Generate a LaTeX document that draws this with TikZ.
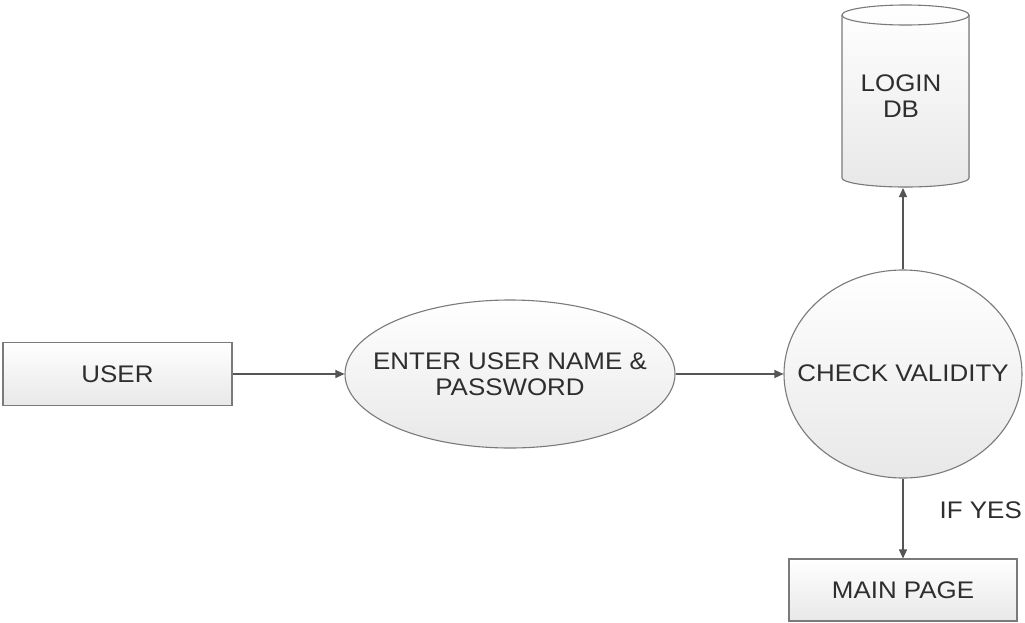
\documentclass[tikz,border=0pt]{standalone}
\usepackage{fontspec}
\setmainfont[FakeStretch=1.08]{Liberation Sans}
\usetikzlibrary{shapes.geometric,arrows.meta}
\definecolor{edgegray}{HTML}{7A7A7A}
\definecolor{txtgray}{HTML}{2E2E2E}
\definecolor{arrgray}{HTML}{555555}
\tikzset{
  shapefill/.style={draw=edgegray, line width=1.1pt, top color=white, bottom color=black!9, text=txtgray, font=\fontsize{24}{26}\selectfont, align=center, inner sep=0pt},
  boxnode/.style={shapefill, rectangle},
  ellnode/.style={shapefill, ellipse},
  flow/.style={draw=arrgray, line width=1.1pt, -{Triangle[length=9pt,width=8pt]}},
  lbl/.style={text=txtgray, font=\fontsize{24}{26}\selectfont, inner sep=0pt, align=center}
}
\begin{document}
\begin{tikzpicture}[x=1pt,y=-1pt]
\useasboundingbox (0,0) rectangle (1025,622);
\clip (0,0) rectangle (1025,622);
\fill[white] (0,0) rectangle (1025,622);
% nodes
\node[boxnode, minimum width=229pt, minimum height=63pt] (user) at (117.5,374) {USER};
\node[ellnode, minimum width=330pt, minimum height=148pt] (enter) at (510,374) {};
\node[lbl] (entertext) at (510,374) {ENTER USER NAME \&\\PASSWORD};
\node[ellnode, minimum width=238pt, minimum height=208pt] (check) at (903,374) {};
\node[lbl] (checktext) at (903,373) {CHECK VALIDITY};
\node[boxnode, minimum width=228pt, minimum height=62pt] (main) at (903,590) {MAIN PAGE};
% cylinder LOGIN DB
\fill[top color=white, bottom color=black!9] (842,15) -- (842,178) arc[start angle=180,end angle=360,x radius=63.5pt,y radius=9pt] -- (969,15) arc[start angle=0,end angle=180,x radius=63.5pt,y radius=10pt] -- cycle;
\draw[edgegray, line width=1.1pt] (842,15) -- (842,178) arc[start angle=180,end angle=360,x radius=63.5pt,y radius=9pt] -- (969,15);
\draw[edgegray, line width=1.1pt] (905.5,15) ellipse[x radius=63.5pt, y radius=10pt];
\coordinate (dbbottom) at (903,188);
\node[lbl] (db) at (901,96) {LOGIN\\DB};
% connectors
\draw[flow] (user.east) -- (enter.west);
\draw[flow] (enter.east) -- (check.west);
\draw[flow] (check.north) -- (dbbottom);
\draw[flow] (check.south) -- (main.north);
\node[lbl, anchor=east] (ifyes) at (1022,510) {IF YES};
\end{tikzpicture}
\end{document}
